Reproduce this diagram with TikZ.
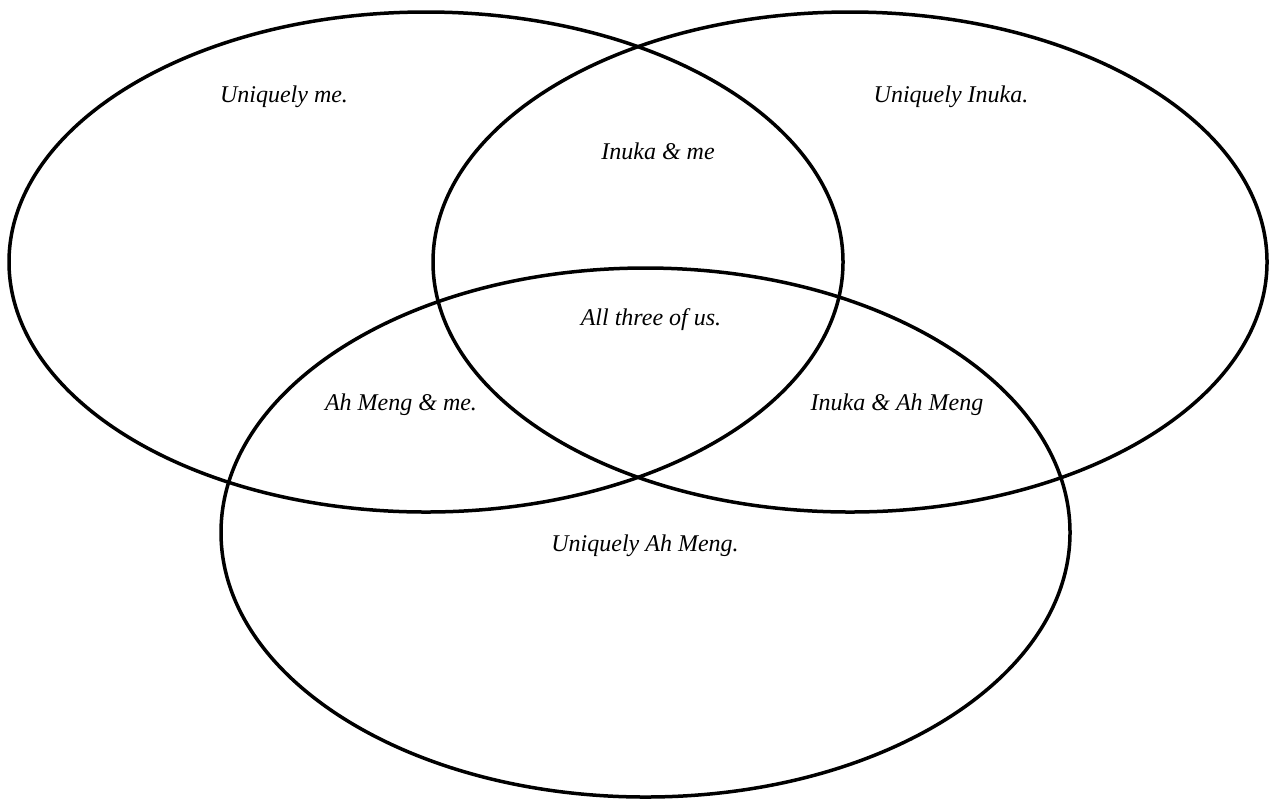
\documentclass[tikz,border=0pt]{standalone}
\usepackage{fontspec}
\setmainfont{Liberation Serif}
\tikzset{
  venn/.style={line width=1.75pt},
  region/.style={font=\fontsize{12}{14}\selectfont\itshape, inner sep=0pt}
}
\begin{document}
\begin{tikzpicture}[x=0.5pt,y=0.5pt,yscale=-1]
\useasboundingbox (0,0) rectangle (1272,800);

%Shape: Ellipse [me]
\draw [venn] (426,262) ellipse [x radius=417, y radius=250];
%Shape: Ellipse [Inuka]
\draw [venn] (850,262) ellipse [x radius=417, y radius=250];
%Shape: Ellipse [Ah Meng]
\draw [venn] (645.5,532.5) ellipse [x radius=424.5, y radius=264.5];

% Text Node
\node [region] (me) at (284,97) {Uniquely me.};
% Text Node
\node [region] (inuka) at (951,97) {Uniquely Inuka.};
% Text Node
\node [region] (inukame) at (658,151) {Inuka \& me};
% Text Node
\node [region] (all) at (651,320) {All three of us.};
% Text Node
\node [region] (ahmengme) at (401,405) {Ah Meng \& me.};
% Text Node
\node [region] (inukaahmeng) at (897,405) {Inuka \& Ah Meng};
% Text Node
\node [region] (ahmeng) at (645,546) {Uniquely Ah Meng.};

\end{tikzpicture}
\end{document}
